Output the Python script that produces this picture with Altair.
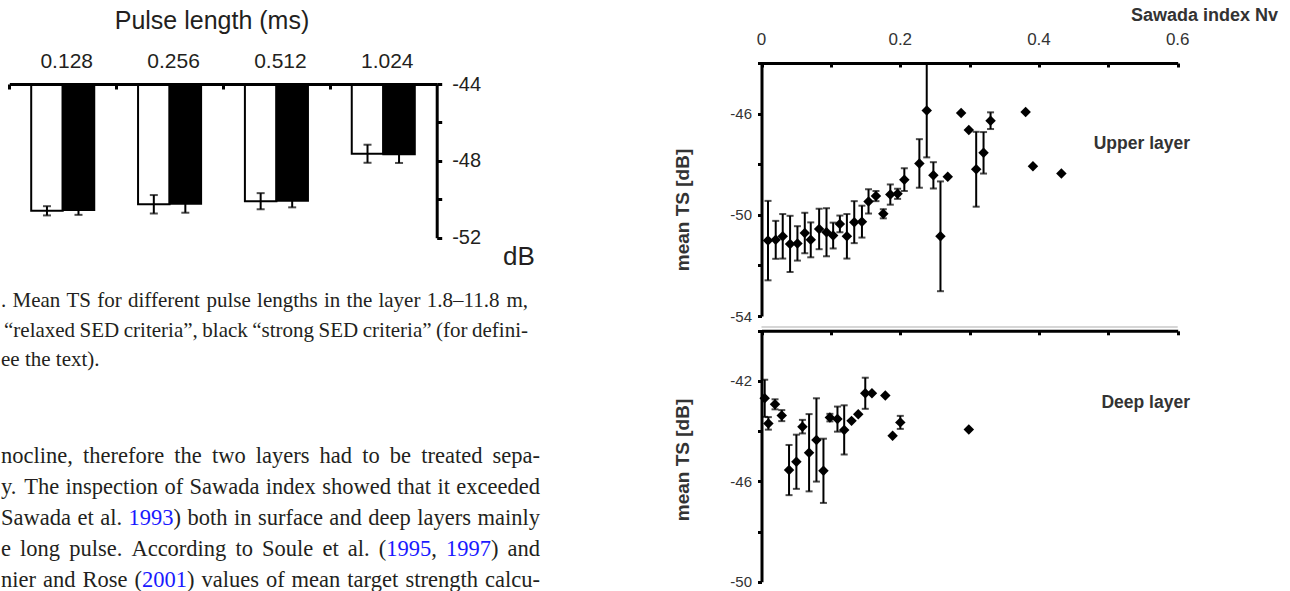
import re
import altair as alt
import pandas as pd

# ---------------- data ----------------
pulse_labels = ["0.128", "0.256", "0.512", "1.024"]
criteria = ["relaxed", "strong"]
ts_relaxed = [-50.60, -50.26, -50.10, -47.63]
err_relaxed = [0.24, 0.48, 0.42, 0.47]
ts_strong = [-50.56, -50.23, -50.08, -47.66]
err_strong = [0.25, 0.47, 0.34, 0.45]

upper_nv = [0.0094, 0.0205, 0.0306, 0.0412, 0.0518, 0.0624, 0.0710, 0.0831, 0.0937, 0.1033,
            0.1130, 0.1231, 0.1337, 0.1448, 0.1543, 0.1650, 0.1756, 0.1857, 0.1962, 0.2059,
            0.2276, 0.2382, 0.2478, 0.2580, 0.2685, 0.2878, 0.2989, 0.3095, 0.3201, 0.3302,
            0.3808, 0.3913, 0.4323]
upper_ts = [-51.02, -50.99, -50.85, -51.15, -51.13, -50.72, -50.99, -50.56, -50.69, -50.82,
            -50.36, -50.85, -50.29, -50.27, -49.47, -49.26, -49.96, -49.20, -49.17, -48.61,
            -47.97, -45.88, -48.44, -50.85, -48.50, -45.98, -46.65, -48.20, -47.55, -46.28,
            -45.94, -48.08, -48.37]
upper_err = [1.57, 0.75, 0.88, 1.11, 0.68, 0.80, 0.69, 0.80, 0.95, 0.51,
             0.33, 0.88, 0.83, 0.63, 0.48, 0.20, 0.18, 0.40, 0.20, 0.45,
             0.96, 1.85, 0.52, 2.17, 0.0, 0.0, 0.0, 1.48, 0.82, 0.33,
             0.0, 0.0, 0.0]

deep_nv = [0.0046, 0.0099, 0.0195, 0.0292, 0.0397, 0.0503, 0.0590, 0.0686, 0.0792, 0.0893,
           0.0986, 0.1095, 0.1192, 0.1298, 0.1395, 0.1496, 0.1592, 0.1785, 0.1890, 0.2001,
           0.2989]
deep_ts = [-42.69, -43.69, -42.93, -43.38, -45.55, -45.22, -43.82, -44.86, -44.35, -45.58,
           -43.46, -43.52, -43.95, -43.59, -43.33, -42.49, -42.49, -42.58, -44.18, -43.65,
           -43.93]
deep_err = [0.74, 0.25, 0.20, 0.22, 1.00, 1.08, 0.27, 1.54, 1.66, 1.28,
            0.15, 0.50, 0.98, 0.0, 0.0, 0.62, 0.0, 0.0, 0.0, 0.26,
            0.0]

nv_ticks = [0, 0.1, 0.2, 0.3, 0.4, 0.5, 0.6]
nv_label_values = [0, 0.2, 0.4, 0.6]
nv_label_texts = ["0", "0.2", "0.4", "0.6"]

caption_lines = [
    ". Mean TS for different pulse lengths in the layer 1.8–11.8 m,",
    "“relaxed SED criteria”, black “strong SED criteria” (for defini-",
    "ee the text).",
]
body_lines = [
    "nocline, therefore the two layers had to be treated sepa-",
    "y. The inspection of Sawada index showed that it exceeded",
    "Sawada et al. [1993]) both in surface and deep layers mainly",
    "e long pulse. According to Soule et al. ([1995], [1997]) and",
    "nier and Rose ([2001]) values of mean target strength calcu-",
]

# ---------------- layout / style ----------------
W, H = 1290, 591
SANS = "Liberation Sans"
SERIF = "Liberation Serif"
INK = "#231f20"
LINK = "#1a1aff"

BX = [9.3, 436.7]        # bar chart band range
BY = [237.7, 84.0]       # bar chart y range for [-52, -44]
XR = [761.5, 1177.7]     # Sawada index range
YU = [316.0, 63.0]       # upper panel [-54, -44]
YL = [581.7, 330.8]      # deep panel [-50, -40]

layers = []

# ---------------- bar chart ----------------
bar_df = pd.DataFrame({
    "pulse": pulse_labels * 2,
    "crit": [criteria[0]] * 4 + [criteria[1]] * 4,
    "ts": ts_relaxed + ts_strong,
    "err": err_relaxed + err_strong,
})
bar_df["lo"] = bar_df["ts"] - bar_df["err"]
bar_df["hi"] = bar_df["ts"] + bar_df["err"]

xb = alt.Scale(domain=pulse_labels, range=BX, paddingInner=0.41, paddingOuter=0.205)
xo = alt.Scale(domain=criteria, paddingInner=0, paddingOuter=0)
yb = alt.Scale(domain=[-52, -44], range=BY, nice=False, zero=False)
step = (BX[1] - BX[0]) / len(pulse_labels)

bars = alt.Chart(bar_df).mark_bar(stroke="black", strokeWidth=2).encode(
    x=alt.X("pulse:N", scale=xb, sort=pulse_labels,
            axis=alt.Axis(orient="bottom", offset=BY[1] - H, labels=False, title=None, grid=False,
                          domainColor="black", domainWidth=3, tickColor="black", tickWidth=3,
                          tickSize=5, tickOffset=-step / 2, zindex=1)),
    xOffset=alt.XOffset("crit:N", scale=xo, sort=criteria),
    y=alt.Y("ts:Q", scale=yb,
            axis=alt.Axis(orient="right", offset=BX[1] - W, values=[-52, -50, -48, -46, -44],
                          labelExpr="datum.value % 4 == 0 ? toString(datum.value) : ''", title=None,
                          grid=False, domainColor="black", domainWidth=3, tickColor="black",
                          tickWidth=3, tickSize=5, labelPadding=10, labelFont=SANS,
                          labelFontSize=20, labelColor=INK, labelOverlap=False, zindex=1)),
    y2=alt.datum(-44),
    fill=alt.Fill("crit:N", scale=alt.Scale(domain=criteria, range=["white", "black"]), legend=None),
)
layers.append(bars)

err_rules = alt.Chart(bar_df).mark_rule(color="black", strokeWidth=2).encode(
    x=alt.X("pulse:N", scale=xb, sort=pulse_labels, axis=None),
    xOffset=alt.XOffset("crit:N", scale=xo, sort=criteria),
    y=alt.Y("lo:Q", scale=yb, axis=None),
    y2="hi:Q",
)
layers.append(err_rules)
for col in ["lo", "hi"]:
    layers.append(alt.Chart(bar_df).mark_tick(orient="horizontal", size=8, thickness=2, color="black").encode(
        x=alt.X("pulse:N", scale=xb, sort=pulse_labels, axis=None),
        xOffset=alt.XOffset("crit:N", scale=xo, sort=criteria),
        y=alt.Y(f"{col}:Q", scale=yb, axis=None),
    ))

cat_text = alt.Chart(pd.DataFrame({"pulse": pulse_labels})).mark_text(
    font=SANS, fontSize=21, color=INK, dx=4, baseline="middle").encode(
    x=alt.X("pulse:N", scale=xb, sort=pulse_labels, axis=None),
    y=alt.value(62),
    text="pulse:N",
)
layers.append(cat_text)

def label(text, x, y, size, align="left", bold=False, angle=0, font=SANS, color=INK):
    return alt.Chart(pd.DataFrame({"t": [text]})).mark_text(
        font=font, fontSize=size, color=color, align=align, baseline="middle",
        fontWeight="bold" if bold else "normal", angle=angle).encode(
        x=alt.value(x), y=alt.value(y), text="t:N")

layers.append(label("Pulse length (ms)", 212, 21, 25, align="center"))
layers.append(label("dB", 503, 257, 26))

# ---------------- scatter panels ----------------
xs = alt.Scale(domain=[0, 0.6], range=XR, nice=False, zero=False)

def panel(nv, ts, err, ydom, yrng, axis_y):
    df = pd.DataFrame({"nv": nv, "ts": ts, "err": err})
    df["lo"] = df["ts"] - df["err"]
    df["hi"] = df["ts"] + df["err"]
    eb = df[df["err"] > 0]
    ys = alt.Scale(domain=ydom, range=yrng, nice=False, zero=False)
    out = []
    out.append(alt.Chart(eb).mark_rule(color="black", strokeWidth=2).encode(
        x=alt.X("nv:Q", scale=xs, axis=None),
        y=alt.Y("lo:Q", scale=ys, axis=None), y2="hi:Q"))
    for col in ["lo", "hi"]:
        out.append(alt.Chart(eb).mark_tick(orient="horizontal", size=7, thickness=2, color="black").encode(
            x=alt.X("nv:Q", scale=xs, axis=None),
            y=alt.Y(f"{col}:Q", scale=ys, axis=None)))
    yvals = list(range(ydom[0], ydom[1] + 1, 2))
    out.append(alt.Chart(df).mark_point(shape="diamond", filled=True, size=110, color="black", opacity=1).encode(
        x=alt.X("nv:Q", scale=xs,
                axis=alt.Axis(orient="bottom", offset=axis_y - H, values=nv_ticks, labels=False,
                              title=None, grid=False, domainColor="black", domainWidth=3,
                              tickColor="black", tickWidth=3, tickSize=4, zindex=1)),
        y=alt.Y("ts:Q", scale=ys,
                axis=alt.Axis(orient="left", offset=-XR[0], values=yvals,
                              labelExpr=f"(datum.value - ({ydom[0]})) % 4 == 0 && datum.value < {ydom[1]} ? toString(datum.value) : ''",
                              title=None, grid=False, domainColor="black", domainWidth=3,
                              tickColor="black", tickWidth=3, tickSize=4, labelPadding=6,
                              labelFont=SANS, labelFontSize=15, labelColor="#333333",
                              labelOverlap=False, zindex=1)),
    ))
    return out

layers += panel(upper_nv, upper_ts, upper_err, [-54, -44], YU, YU[1])
layers += panel(deep_nv, deep_ts, deep_err, [-50, -40], YL, YL[1])

# light frame line under the upper panel
layers.append(alt.Chart(pd.DataFrame({"a": [0]})).mark_rule(color="#c8c8c8", strokeWidth=1.5).encode(
    x=alt.X(datum=0, scale=xs, axis=None), x2=alt.X2(datum=0.6), y=alt.value(327)))

# Sawada index labels
layers.append(alt.Chart(pd.DataFrame({"v": nv_label_values, "t": nv_label_texts})).mark_text(
    font=SANS, fontSize=17, color="#333333", baseline="middle").encode(
    x=alt.X("v:Q", scale=xs, axis=None), y=alt.value(40), text="t:N"))

layers.append(label("Sawada index Nv", 1278, 16, 18, align="right", bold=True, color="#333333"))
layers.append(label("Upper layer", 1190, 144, 17.5, align="right", bold=True, color="#333333"))
layers.append(label("Deep layer", 1190, 403, 17.5, align="right", bold=True, color="#333333"))
layers.append(label("mean TS [dB]", 683, 210, 19, align="center", bold=True, angle=270, color="#333333"))
layers.append(label("mean TS [dB]", 683, 460, 19, align="center", bold=True, angle=270, color="#333333"))

# ---------------- page text ----------------
TW = {" ": 250, ".": 250, ",": 250, "(": 333, ")": 333, "-": 333, "–": 500, "“": 444, "”": 444}
TW.update(dict(zip("abcdefghijklmnopqrstuvwxyz",
                   [444, 500, 444, 500, 444, 333, 500, 500, 278, 278, 500, 278, 778, 500, 500,
                    500, 500, 333, 389, 278, 500, 500, 722, 500, 500, 444])))
TW.update(dict(zip("ABCDEFGHIJKLMNOPQRSTUVWXYZ",
                   [722, 667, 667, 722, 611, 556, 722, 722, 333, 389, 722, 611, 889, 722, 722,
                    556, 722, 667, 556, 611, 722, 722, 944, 722, 722, 611])))
for d in "0123456789":
    TW[d] = 500

def tw(s, size):
    return sum(TW.get(c, 500) for c in s) * size / 1000.0

def parse_word(w):
    segs = []
    for part in re.split(r"(\[[^\]]+\])", w):
        if not part:
            continue
        if part.startswith("["):
            segs.append((part[1:-1], True))
        else:
            segs.append((part, False))
    return segs

def layout(lines, lefts, right, baselines, size, justify):
    rows = []
    for text, x0, yb0, just in zip(lines, lefts, baselines, justify):
        words = [parse_word(w) for w in text.split(" ")]
        widths = [sum(tw(s, size) for s, _ in ws) for ws in words]
        gap = tw(" ", size)
        if just and len(words) > 1:
            gap = max(0.15 * size, (right - x0 - sum(widths)) / (len(words) - 1))
        x = x0
        for ws, wd in zip(words, widths):
            xx = x
            for s, blue in ws:
                rows.append({"text": s, "x": xx, "y": yb0, "color": LINK if blue else INK, "size": size})
                xx += tw(s, size)
            x += wd + gap
    return rows

rows = layout(caption_lines, [1, 4, 1], 528, [307, 337, 366], 21, [True, True, False])
rows += layout(body_lines, [1, 1, 1, 1, 1], 540, [463, 494, 525, 556, 587], 22.5,
               [True, True, True, True, True])
text_df = pd.DataFrame(rows)
layers.append(alt.Chart(text_df).mark_text(font=SERIF, align="left", baseline="alphabetic").encode(
    x=alt.X("x:Q", scale=None, axis=None),
    y=alt.Y("y:Q", scale=None, axis=None),
    text="text:N",
    color=alt.Color("color:N", scale=None),
    size=alt.Size("size:Q", scale=None),
))

chart = alt.layer(*layers).resolve_scale(
    x="independent", y="independent", xOffset="independent"
).properties(
    width=W, height=H, padding=0, autosize=alt.AutoSizeParams(type="none"),
    background="white",
).configure_view(strokeWidth=0)

chart.save("out.html", embed_options={"renderer": "svg", "actions": False})
